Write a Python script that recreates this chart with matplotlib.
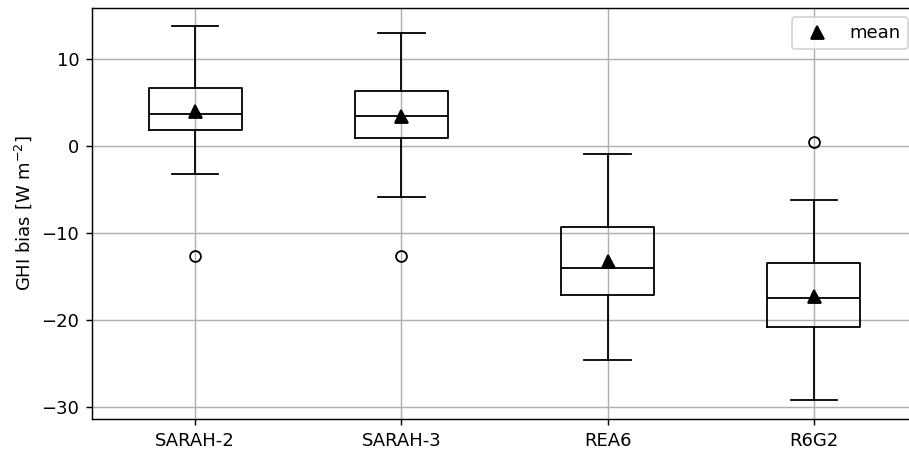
import numpy as np
import matplotlib
matplotlib.use("Agg")
import matplotlib.pyplot as plt

# Box statistics (W m-2)
labels = ["SARAH-2", "SARAH-3", "REA6", "R6G2"]
whislo = [-3.2, -5.85, -24.6, -29.2]
q1 = [1.85, 1.0, -17.1, -20.8]
med = [3.75, 3.5, -13.95, -17.4]
q3 = [6.65, 6.35, -9.25, -13.4]
whishi = [13.8, 13.0, -0.9, -6.2]
means = [4.05, 3.45, -13.2, -17.2]
fliers = [[-12.65], [-12.65], [], [0.45]]

stats = []
for i, lab in enumerate(labels):
    stats.append({"label": lab, "whislo": whislo[i], "q1": q1[i], "med": med[i],
                  "q3": q3[i], "whishi": whishi[i], "mean": means[i],
                  "fliers": np.array(fliers[i])})

DPI = 130
fig = plt.figure(figsize=(909 / DPI, 451 / DPI), dpi=DPI)
ax = fig.add_axes([92 / 909, 32 / 451, 825 / 909, 411 / 451])

black = {"color": "black"}
ax.bxp(stats, widths=0.45, showmeans=True,
       boxprops=black, whiskerprops=black, capprops=black,
       medianprops=black,
       meanprops={"marker": "^", "markerfacecolor": "black",
                  "markeredgecolor": "black", "markersize": 7.2},
       flierprops={"marker": "o", "markerfacecolor": "none",
                   "markeredgecolor": "black", "markersize": 6})

# proxy for legend
ax.plot([], [], "^", color="black", markersize=7.2, label="mean")
ax.legend(loc="upper right")

ax.set_xlim(0.5, 4.5)
ax.set_ylim(-31.35, 15.9)
ax.set_yticks([-30, -20, -10, 0, 10])
ax.set_ylabel(r"GHI bias [W m$^{-2}$]")
ax.grid(True)
ax.set_axisbelow(True)

fig.savefig("out.png", dpi=DPI)
